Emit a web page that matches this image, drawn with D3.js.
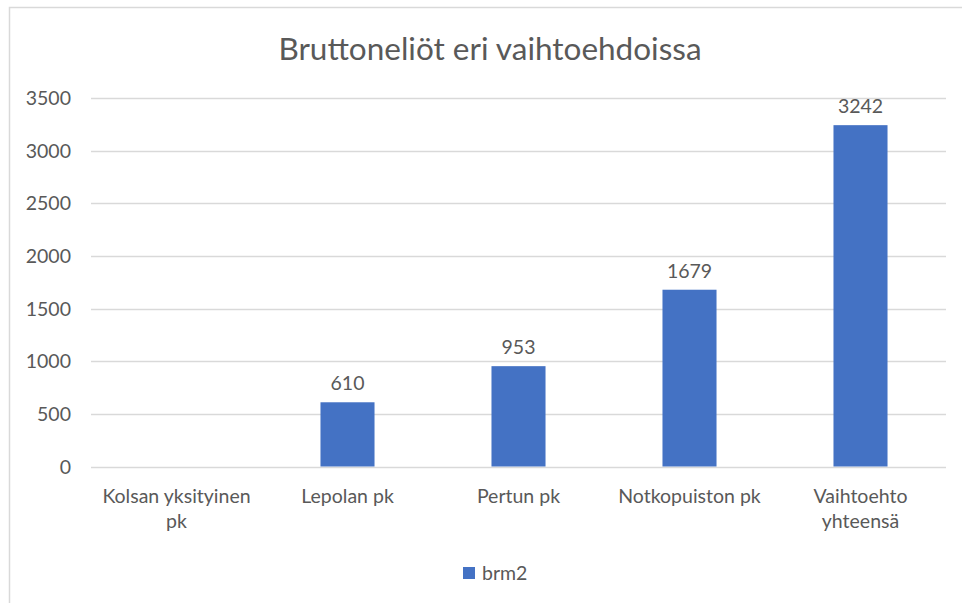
<!DOCTYPE html>
<html><head><meta charset="utf-8">
<script src="https://cdn.jsdelivr.net/npm/d3@7"></script>
<style>body{margin:0;background:#fff}svg{display:block}text{font-family:Lato,"Open Sans",sans-serif;fill:#595959}</style>
</head><body><svg id="c" width="962" height="603"></svg>
<script>
const categories = [["Kolsan yksityinen","pk"],["Lepolan pk"],["Pertun pk"],["Notkopuiston pk"],["Vaihtoehto","yhteensä"]];
const values = [null, 610, 953, 1679, 3242];
const yTicks = [0,500,1000,1500,2000,2500,3000,3500];
const seriesName = "brm2";
const title = "Bruttoneliöt eri vaihtoehdoissa";
const color = "#4472c4";

const svg = d3.select("#c");
svg.append("rect").attr("x",9.5).attr("y",7.5).attr("width",980).attr("height",620)
  .attr("fill","#fff").attr("stroke","#d9d9d9").attr("stroke-width",1.5);

const L=91,R=946,T=98,B=466.5;
const x = d3.scaleBand().domain(categories.map((d,i)=>i)).range([L,R]).paddingInner(0.684).paddingOuter(0.342);
const y = d3.scaleLinear().domain([0,3500]).range([B,T]);

svg.append("text").attr("x",490).attr("y",60).attr("text-anchor","middle").style("font-size","31.5px").text(title);

const g = svg.append("g");
g.selectAll("line.grid").data(yTicks).join("line").attr("class","grid")
 .attr("x1",L).attr("x2",R).attr("y1",d=>Math.round(y(d))+0.5).attr("y2",d=>Math.round(y(d))+0.5)
 .attr("stroke","#d9d9d9").attr("stroke-width",1.3);
g.selectAll("text.yt").data(yTicks).join("text").attr("class","yt")
 .attr("x",71).attr("y",d=>y(d)+7).attr("text-anchor","end").style("font-size","19.5px").text(d=>d);

const data = values.map((v,i)=>({i,v})).filter(d=>d.v!=null);
g.selectAll("rect.bar").data(data).join("rect").attr("class","bar")
 .attr("x",d=>x(d.i)).attr("width",x.bandwidth()).attr("y",d=>y(d.v)).attr("height",d=>y(0)-y(d.v)).attr("fill",color);
g.selectAll("text.lbl").data(data).join("text").attr("class","lbl")
 .attr("x",d=>x(d.i)+x.bandwidth()/2).attr("y",d=>y(d.v)-12).attr("text-anchor","middle").style("font-size","19.5px").text(d=>d.v);

categories.forEach((lines,i)=>{
  const t = g.append("text").attr("text-anchor","middle").style("font-size","19.5px");
  lines.forEach((s,j)=>t.append("tspan").attr("x",x(i)+x.bandwidth()/2).attr("y",503+j*25).text(s));
});

svg.append("rect").attr("x",463).attr("y",567).attr("width",12).attr("height",12).attr("fill",color);
svg.append("text").attr("x",482).attr("y",580).style("font-size","19.5px").text(seriesName);
</script></body></html>
